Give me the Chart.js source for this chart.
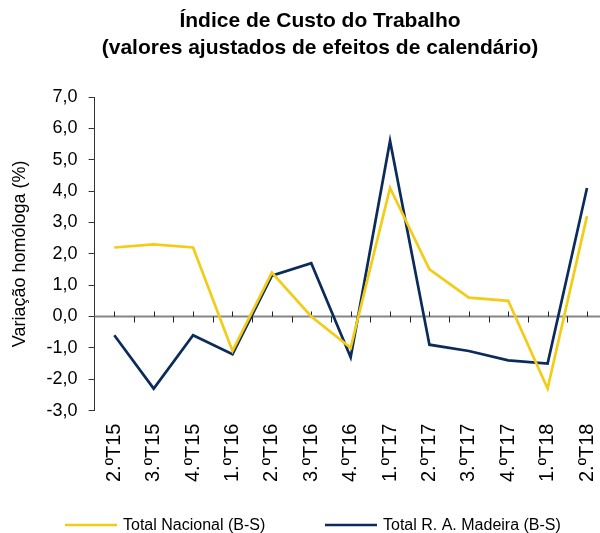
<!DOCTYPE html>
<html>
<head>
<meta charset="utf-8">
<script src="https://cdn.jsdelivr.net/npm/chart.js@4"></script>
<style>
  html, body { margin:0; padding:0; background:#fff; overflow:hidden; }
  #wrap { width:624px; height:533px; }
</style>
</head>
<body>
<div id="wrap"><canvas id="ictChart" width="624" height="533"></canvas></div>
<script>
// Data
const quarters = ["2.ºT15","3.ºT15","4.ºT15","1.ºT16","2.ºT16","3.ºT16","4.ºT16","1.ºT17","2.ºT17","3.ºT17","4.ºT17","1.ºT18","2.ºT18"];
const totalNacional = [2.2, 2.3, 2.2, -1.1, 1.4, 0.0, -1.0, 4.1, 1.5, 0.6, 0.5, -2.3, 3.2];
const totalMadeira = [-0.6, -2.3, -0.6, -1.2, 1.3, 1.7, -1.3, 5.6, -0.9, -1.1, -1.4, -1.5, 4.1];
const yTicks = [7, 6, 5, 4, 3, 2, 1, 0, -1, -2, -3];

const titleLines = ["Índice de Custo do Trabalho", "(valores ajustados de efeitos de calendário)"];
const yTitle = "Variação homóloga (%)";
const seriesNames = ["Total Nacional (B-S)", "Total R. A. Madeira (B-S)"];
const colors = ["#f2cc16", "#0b2c5b"];

const FONT = "Arial, 'Liberation Sans', sans-serif";

// Title drawn centred over the picture
const titlePlugin = {
  id: 'titleLines',
  afterDraw(chart){
    const c = chart.ctx;
    c.save();
    c.fillStyle = '#000';
    c.font = "bold 21px " + FONT;
    c.textAlign = 'center';
    c.textBaseline = 'middle';
    titleLines.forEach((t, i) => c.fillText(t, 320, 21 + i * 27));
    c.restore();
  }
};

// Zero line with small tick marks
const zeroLine = {
  id: 'zeroLine',
  beforeDatasetsDraw(chart){
    const {ctx: c, chartArea: a, scales: {x, y}} = chart;
    const y0 = y.getPixelForValue(0);
    c.save();
    c.strokeStyle = '#868686';
    c.lineWidth = 2;
    c.beginPath();
    c.moveTo(a.left, y0);
    c.lineTo(a.right, y0);
    c.stroke();
    c.strokeStyle = '#222';
    c.lineWidth = 1;
    const step = x.getPixelForValue(1) - x.getPixelForValue(0);
    quarters.forEach((q, i) => {
      const px = Math.round(x.getPixelForValue(i)) + 0.5;
      c.beginPath(); c.moveTo(px, y0 - 5); c.lineTo(px, y0); c.stroke();
      const bx = Math.round(x.getPixelForValue(i) + step / 2) + 0.5;
      c.beginPath(); c.moveTo(bx, y0); c.lineTo(bx, y0 + 6); c.stroke();
    });
    c.restore();
  }
};

// Legend at the bottom
const legendPlugin = {
  id: 'bottomLegend',
  afterDraw(chart){
    const c = chart.ctx;
    const starts = [65, 325];
    c.save();
    c.font = "16px " + FONT;
    c.textBaseline = 'middle';
    c.textAlign = 'left';
    chart.data.datasets.forEach((ds, i) => {
      c.strokeStyle = ds.borderColor;
      c.lineWidth = 2.5;
      c.beginPath();
      c.moveTo(starts[i], 525);
      c.lineTo(starts[i] + 52, 525);
      c.stroke();
      c.fillStyle = '#000';
      c.fillText(ds.label, starts[i] + 58, 526);
    });
    c.restore();
  }
};

new Chart(document.getElementById("ictChart"), {
  type: 'line',
  data: {
    labels: quarters,
    datasets: [
      {label: seriesNames[0], data: totalNacional, borderColor: colors[0], backgroundColor: colors[0], borderWidth: 2.7, pointRadius: 0, tension: 0},
      {label: seriesNames[1], data: totalMadeira, borderColor: colors[1], backgroundColor: colors[1], borderWidth: 2.7, pointRadius: 0, tension: 0}
    ]
  },
  options: {
    responsive: false,
    animation: false,
    devicePixelRatio: 1,
    layout: { padding: { top: 97, bottom: 38, left: 0, right: 0 } },
    plugins: { legend: { display: false }, title: { display: false }, tooltip: { enabled: false } },
    scales: {
      x: {
        offset: true,
        grid: { display: false, drawTicks: false },
        border: { display: false },
        ticks: { minRotation: 90, maxRotation: 90, padding: 13, color: '#000', font: { family: FONT, size: 20 } }
      },
      y: {
        min: -3, max: 7,
        afterBuildTicks: axis => { axis.ticks = yTicks.map(v => ({value: v})); },
        grid: { drawOnChartArea: false, drawTicks: true, tickLength: 6, tickColor: '#333' },
        border: { display: true, color: '#333', width: 1 },
        ticks: { padding: 11, color: '#000', font: { family: FONT, size: 18 },
                 callback: v => v.toFixed(1).replace('.', ',') },
        title: { display: true, text: yTitle, color: '#000', font: { family: FONT, size: 18 }, padding: { top: 9, bottom: 5 } }
      }
    }
  },
  plugins: [titlePlugin, zeroLine, legendPlugin]
});
</script>
</body>
</html>
